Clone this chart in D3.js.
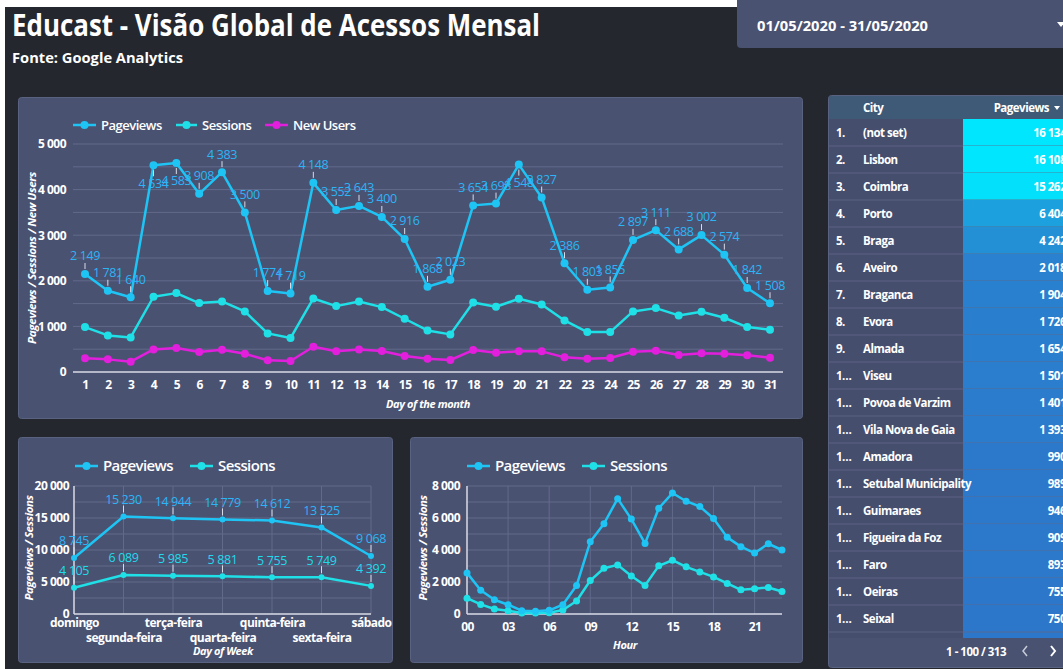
<!DOCTYPE html>
<head>
  <meta charset="utf-8">
  <script src="https://d3js.org/d3.v7.min.js"></script>
  <style>
    body { margin: 0; background: #ffffff; overflow: hidden; }
    text { font-family: 'Open Sans', sans-serif; fill: #ffffff; font-weight: 700; }
    .tick text { font-size: 12px; font-weight: 700; fill: #ffffff; letter-spacing: -0.5px; }
    .axisTitle { font-size: 11px; font-style: italic; font-weight: 700; letter-spacing: -0.4px; }
    .legend { font-size: 13px; font-weight: 600; letter-spacing: -0.5px; }
    .legendBig { font-size: 15px; font-weight: 600; letter-spacing: -0.6px; }
    .valueLabel { font-size: 12.5px; font-weight: 400; letter-spacing: -0.4px; }
    .cell { font-size: 11.5px; font-weight: 700; letter-spacing: -0.5px; }
  </style>
</head>
<body>
<svg id="dash" width="1063" height="669"></svg>
<script>

// ---------------- data ----------------

const monthDays = [1,2,3,4,5,6,7,8,9,10,11,12,13,14,15,16,17,18,19,20,21,22,23,24,25,26,27,28,29,30,31];
const monthPageviews = [2149,1781,1640,4534,4583,3908,4383,3500,1774,1719,4148,3552,3643,3400,2916,1868,2023,3654,3693,4548,3827,2386,1803,1855,2897,3111,2688,3002,2574,1842,1508];
const monthSessions = [985,803,759,1650,1730,1511,1547,1328,847,745,1613,1445,1547,1423,1168,912,825,1526,1431,1606,1482,1131,876,876,1328,1401,1241,1321,1190,985,927];
const monthNewUsers = [299,277,226,496,526,438,489,401,255,241,555,453,496,460,350,292,263,482,423,453,453,321,292,307,445,467,372,409,401,365,314];

const weekDays = ["domingo","segunda-feira","terça-feira","quarta-feira","quinta-feira","sexta-feira","sábado"];
const weekPageviews = [8745,15230,14944,14779,14612,13525,9068];
const weekSessions = [4105,6089,5985,5881,5755,5749,4392];

const hours = [0,1,2,3,4,5,6,7,8,9,10,11,12,13,14,15,16,17,18,19,20,21,22,23];
const hourTicks = [0,3,6,9,12,15,18,21];
const hourPageviews = [2570,1490,890,580,210,170,230,580,1780,4520,5640,7210,5930,4410,6610,7560,7050,6720,5970,4790,4210,3810,4390,4000];
const hourSessions = [990,600,310,210,60,60,80,250,810,2090,2860,3070,2380,1780,3010,3360,2950,2630,2320,1910,1510,1580,1660,1410];

const cityNames = ["(not set)","Lisbon","Coimbra","Porto","Braga","Aveiro","Braganca","Evora","Almada","Viseu","Povoa de Varzim","Vila Nova de Gaia","Amadora","Setubal Municipality","Guimaraes","Figueira da Foz","Faro","Oeiras","Seixal"];
const cityPageviews = [16134,16108,15262,6404,4242,2018,1904,1726,1654,1501,1401,1393,990,989,946,909,893,755,750];

// ---------------- setup ----------------

const C_PV = "#1ec4f4", C_SE = "#1fe0e6", C_NU = "#e21fdc";
const C_PV_LBL = "#2cb4f6", C_SE_LBL = "#22d9ea";
const CARD = "#4a5272", GRID = "#626a8a";

const loc = d3.formatLocale({decimal: ",", thousands: " ", grouping: [3], currency: ["", ""]});
const fmt = loc.format(",");

const svg = d3.select("#dash");

// page background
svg.append("rect").attr("x", 5).attr("y", 7).attr("width", 1058).attr("height", 662).attr("fill", "#25272e");

// title
svg.append("text").attr("x", 12).attr("y", 36).attr("font-size", 30)
    .attr("textLength", 528).attr("lengthAdjust", "spacingAndGlyphs")
    .text("Educast - Visão Global de Acessos Mensal");
svg.append("text").attr("x", 12).attr("y", 63).attr("font-size", 15)
    .attr("textLength", 171).attr("lengthAdjust", "spacingAndGlyphs")
    .text("Fonte: Google Analytics");

// date selector
svg.append("rect").attr("x", 737).attr("y", -6).attr("width", 340).attr("height", 54).attr("rx", 4)
    .attr("fill", CARD);
svg.append("text").attr("x", 757).attr("y", 31).attr("font-size", 15).attr("font-weight", 600)
    .attr("textLength", 171).attr("lengthAdjust", "spacingAndGlyphs")
    .text("01/05/2020 - 31/05/2020");
svg.append("path").attr("d", "M1057,22 l8,0 l-4,5 z").attr("fill", "#ffffff");

// cards
function card(x, y, w, h) {
  svg.append("rect").attr("x", x).attr("y", y).attr("width", w).attr("height", h).attr("rx", 3)
      .attr("fill", CARD).attr("stroke", "#5a6282").attr("stroke-width", 1);
}
card(18.5, 97.5, 784, 321);
card(18.5, 437.5, 374, 225);
card(410.5, 437.5, 392, 225);

function legendItem(g, x, y, color, label, cls, len) {
  g.append("line").attr("x1", x).attr("x2", x + len).attr("y1", y).attr("y2", y)
      .attr("stroke", color).attr("stroke-width", 2.5);
  g.append("circle").attr("cx", x + len / 2).attr("cy", y).attr("r", 4).attr("fill", color);
  g.append("text").attr("class", cls).attr("x", x + len + 5).attr("y", y).attr("dy", "0.35em").text(label);
}

function drawLine(g, xs, ys, keys, vals, color, r, width) {
  const pts = keys.map((k, i) => [xs(k), ys(vals[i])]);
  g.append("path").attr("d", d3.line()(pts)).attr("fill", "none")
      .attr("stroke", color).attr("stroke-width", width).attr("stroke-linejoin", "round");
  g.selectAll(null).data(pts).enter().append("circle")
      .attr("cx", d => d[0]).attr("cy", d => d[1]).attr("r", r).attr("fill", color);
}

// ---------------- monthly chart ----------------

const gm = svg.append("g");
const xm = d3.scalePoint().domain(monthDays).range([85, 770]);
const ym = d3.scaleLinear().domain([0, 5000]).range([372, 144]);

gm.selectAll(".grid").data(ym.ticks(10).filter(d => d > 0)).enter().append("line")
    .attr("x1", 73).attr("x2", 783).attr("y1", d => ym(d)).attr("y2", d => ym(d))
    .attr("stroke", GRID).attr("stroke-width", 1);
gm.append("line").attr("x1", 73).attr("x2", 783).attr("y1", 372).attr("y2", 372)
    .attr("stroke", "#d8dbe6").attr("stroke-width", 1.5);

gm.append("g").attr("transform", "translate(73,0)")
    .call(d3.axisLeft(ym).tickValues([0,1000,2000,3000,4000,5000]).tickSize(0).tickPadding(7).tickFormat(fmt))
    .call(g => g.select(".domain").remove());
gm.append("g").attr("transform", "translate(0,372)")
    .call(d3.axisBottom(xm).tickSize(0).tickPadding(8))
    .call(g => g.select(".domain").remove());

gm.append("text").attr("class", "axisTitle").attr("transform", "translate(36,258) rotate(-90)")
    .attr("text-anchor", "middle").attr("textLength", 172).attr("lengthAdjust", "spacingAndGlyphs")
    .text("Pageviews / Sessions / New Users");
gm.append("text").attr("class", "axisTitle").attr("x", 428).attr("y", 408).attr("text-anchor", "middle")
    .text("Day of the month");

drawLine(gm, xm, ym, monthDays, monthNewUsers, C_NU, 4, 2.5);
drawLine(gm, xm, ym, monthDays, monthSessions, C_SE, 4, 2.5);
drawLine(gm, xm, ym, monthDays, monthPageviews, C_PV, 4, 2.5);

// value labels with leader lines (below the point when close to the top)
monthDays.forEach((d, i) => {
  const px = xm(d), py = ym(monthPageviews[i]);
  const below = monthPageviews[i] > 4500;
  const s = below ? 1 : -1;
  gm.append("line").attr("x1", px).attr("x2", px).attr("y1", py + s * 5).attr("y2", py + s * 11)
      .attr("stroke", "#d8dbe6").attr("stroke-width", 1);
  gm.append("text").attr("class", "valueLabel").attr("x", px).attr("y", py + s * 18).attr("dy", "0.35em")
      .attr("text-anchor", "middle").style("fill", C_PV_LBL).text(fmt(monthPageviews[i]));
});

const lgm = svg.append("g");
legendItem(lgm, 73, 125, C_PV, "Pageviews", "legend", 23);
legendItem(lgm, 176, 125, C_SE, "Sessions", "legend", 21);
legendItem(lgm, 265, 125, C_NU, "New Users", "legend", 23);

// ---------------- day of week chart ----------------

const gw = svg.append("g");
const xw = d3.scalePoint().domain(weekDays).range([74, 371]);
const yw = d3.scaleLinear().domain([0, 20000]).range([614, 486]);

gw.selectAll(".hgrid").data(d3.range(2500, 20001, 2500)).enter().append("line")
    .attr("x1", 74).attr("x2", 371).attr("y1", d => yw(d)).attr("y2", d => yw(d))
    .attr("stroke", GRID);
gw.selectAll(".vgrid").data(weekDays.slice(1)).enter().append("line")
    .attr("x1", d => xw(d)).attr("x2", d => xw(d)).attr("y1", 486).attr("y2", 614)
    .attr("stroke", GRID);
gw.append("line").attr("x1", 74).attr("x2", 74).attr("y1", 486).attr("y2", 614).attr("stroke", "#d8dbe6").attr("stroke-width", 1.5);
gw.append("line").attr("x1", 74).attr("x2", 371).attr("y1", 614).attr("y2", 614).attr("stroke", "#d8dbe6").attr("stroke-width", 1.5);

gw.append("g").attr("transform", "translate(74,0)")
    .call(d3.axisLeft(yw).tickValues([0,5000,10000,15000,20000]).tickSize(0).tickPadding(5).tickFormat(fmt))
    .call(g => g.select(".domain").remove());
gw.append("g").attr("transform", "translate(0,614)")
    .call(d3.axisBottom(xw).tickSize(0).tickPadding(5))
    .call(g => g.select(".domain").remove())
    .call(g => g.selectAll(".tick text").attr("y", (d, i) => i % 2 ? 19 : 4));

gw.append("text").attr("class", "axisTitle").attr("transform", "translate(33,548) rotate(-90)")
    .attr("text-anchor", "middle").attr("textLength", 105).attr("lengthAdjust", "spacingAndGlyphs")
    .text("Pageviews / Sessions");
gw.append("text").attr("class", "axisTitle").attr("x", 223).attr("y", 655).attr("text-anchor", "middle")
    .text("Day of Week");

drawLine(gw, xw, yw, weekDays, weekSessions, C_SE, 3, 2.5);
drawLine(gw, xw, yw, weekDays, weekPageviews, C_PV, 3, 2.5);

[[weekPageviews, C_PV_LBL], [weekSessions, C_SE_LBL]].forEach(([vals, col]) => {
  weekDays.forEach((d, i) => {
    const px = xw(d), py = yw(vals[i]);
    gw.append("line").attr("x1", px).attr("x2", px).attr("y1", py - 4).attr("y2", py - 11)
        .attr("stroke", "#d8dbe6").attr("stroke-width", 1);
    gw.append("text").attr("class", "valueLabel").attr("x", px).attr("y", py - 17).attr("dy", "0.35em")
        .attr("text-anchor", "middle").style("fill", col).text(fmt(vals[i]));
  });
});

const lgw = svg.append("g");
legendItem(lgw, 75, 466, C_PV, "Pageviews", "legendBig", 23);
legendItem(lgw, 190, 466, C_SE, "Sessions", "legendBig", 23);

// ---------------- hour chart ----------------

const gh = svg.append("g");
const xh = d3.scaleLinear().domain([0, 23]).range([467, 782]);
const yh = d3.scaleLinear().domain([0, 8000]).range([614, 486]);

gh.selectAll(".hgrid").data(d3.range(1000, 8001, 1000)).enter().append("line")
    .attr("x1", 467).attr("x2", 782).attr("y1", d => yh(d)).attr("y2", d => yh(d))
    .attr("stroke", GRID);
gh.selectAll(".vgrid").data(hourTicks.slice(1)).enter().append("line")
    .attr("x1", d => xh(d)).attr("x2", d => xh(d)).attr("y1", 486).attr("y2", 614)
    .attr("stroke", GRID);
gh.append("line").attr("x1", 467).attr("x2", 467).attr("y1", 486).attr("y2", 614).attr("stroke", "#d8dbe6").attr("stroke-width", 1.5);
gh.append("line").attr("x1", 467).attr("x2", 782).attr("y1", 614).attr("y2", 614).attr("stroke", "#d8dbe6").attr("stroke-width", 1.5);

gh.append("g").attr("transform", "translate(467,0)")
    .call(d3.axisLeft(yh).tickValues([0,2000,4000,6000,8000]).tickSize(0).tickPadding(7).tickFormat(fmt))
    .call(g => g.select(".domain").remove());
gh.append("g").attr("transform", "translate(0,614)")
    .call(d3.axisBottom(xh).tickValues(hourTicks).tickSize(0).tickPadding(8).tickFormat(d3.format("02d")))
    .call(g => g.select(".domain").remove());

gh.append("text").attr("class", "axisTitle").attr("transform", "translate(427,548) rotate(-90)")
    .attr("text-anchor", "middle").attr("textLength", 105).attr("lengthAdjust", "spacingAndGlyphs")
    .text("Pageviews / Sessions");
gh.append("text").attr("class", "axisTitle").attr("x", 625).attr("y", 649).attr("text-anchor", "middle")
    .text("Hour");

drawLine(gh, xh, yh, hours, hourSessions, C_SE, 3.5, 2.5);
drawLine(gh, xh, yh, hours, hourPageviews, C_PV, 3.5, 2.5);

const lgh = svg.append("g");
legendItem(lgh, 467, 466, C_PV, "Pageviews", "legendBig", 23);
legendItem(lgh, 582, 466, C_SE, "Sessions", "legendBig", 23);

// ---------------- city table ----------------

const gt = svg.append("g");
const rowH = 27, top0 = 119, colX = 963;
const cScale = d3.scaleLinear().domain([0, d3.max(cityPageviews)]).range(["#2f72c8", "#00e6ff"]);

gt.append("rect").attr("x", 828.5).attr("y", 95.5).attr("width", 250).attr("height", 572).attr("rx", 3)
    .attr("fill", CARD).attr("stroke", "#5a6282");
gt.append("rect").attr("x", 829).attr("y", 96).attr("width", 240).attr("height", top0 - 96).attr("fill", "#3e5a76");
gt.append("rect").attr("x", 829).attr("y", top0).attr("width", colX - 829).attr("height", 519).attr("fill", "#464e6e");
gt.append("rect").attr("x", colX).attr("y", top0).attr("width", 110).attr("height", 519).attr("fill", cScale(700));

gt.append("text").attr("class", "cell").attr("x", 863).attr("y", 108).attr("dy", "0.35em").attr("font-size", 12.5).text("City");
gt.append("text").attr("class", "cell").attr("x", 1049).attr("y", 108).attr("dy", "0.35em")
    .attr("text-anchor", "end").attr("font-size", 12.5).text("Pageviews");
gt.append("path").attr("d", "M1054,106 l6,0 l-3,4 z").attr("fill", "#ffffff");

const rows = gt.selectAll(".row").data(cityNames).enter().append("g")
    .attr("transform", (d, i) => `translate(0,${top0 + i * rowH})`);
rows.append("rect").attr("x", colX).attr("y", 0).attr("width", 110).attr("height", rowH)
    .attr("fill", (d, i) => cScale(cityPageviews[i]));
rows.append("line").attr("x1", 829).attr("x2", 1070).attr("y1", rowH).attr("y2", rowH)
    .attr("stroke", "#5f6888").attr("stroke-opacity", 0.8);
rows.append("text").attr("class", "cell").attr("x", 836).attr("y", rowH / 2).attr("dy", "0.35em")
    .text((d, i) => i < 9 ? (i + 1) + "." : "1…");
rows.append("text").attr("class", "cell").attr("x", 863).attr("y", rowH / 2).attr("dy", "0.35em")
    .text(d => d);
rows.append("text").attr("class", "cell").attr("x", 1066).attr("y", rowH / 2).attr("dy", "0.35em")
    .attr("text-anchor", "end").text((d, i) => fmt(cityPageviews[i]));

gt.append("text").attr("class", "cell").attr("x", 1006).attr("y", 652).attr("dy", "0.35em")
    .attr("text-anchor", "end").attr("font-size", 12.5).text("1 - 100 / 313");
gt.append("path").attr("d", "M1027,646 l-4,5 l4,5").attr("fill", "none").attr("stroke", "#c8ccd8").attr("stroke-width", 1.5);
gt.append("path").attr("d", "M1051,646 l4,5 l-4,5").attr("fill", "none").attr("stroke", "#ffffff").attr("stroke-width", 2);

</script>
</body>
